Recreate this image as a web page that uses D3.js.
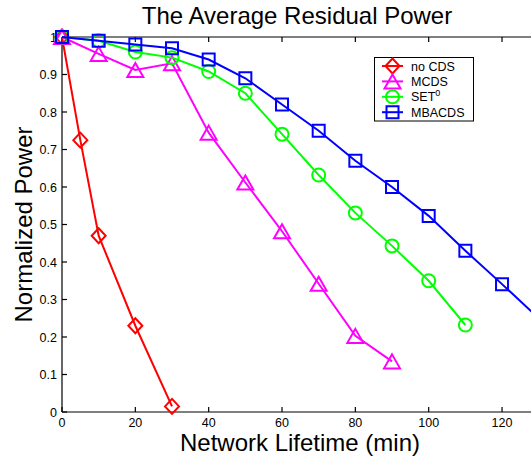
<!DOCTYPE html>
<html>
<head>
<meta charset="utf-8">
<script src="https://cdn.jsdelivr.net/npm/d3@7"></script>
<style>
  html, body { margin: 0; padding: 0; background: #fff; overflow: hidden; }
  svg { display: block; font-family: "Liberation Sans", Arial, Helvetica, sans-serif; }
</style>
</head>
<body>
<div id="chart"></div>
<script>
  // values
  var noCdsX   = [0, 5, 10, 20, 30],
      noCdsY   = [1, 0.725, 0.47, 0.23, 0.015];
  var mcdsX    = [0, 10, 20, 30, 40, 50, 60, 70, 80, 90],
      mcdsY    = [1, 0.955, 0.912, 0.93, 0.745, 0.612, 0.482, 0.342, 0.203, 0.135];
  var setX     = [0, 10, 20, 30, 40, 50, 60, 70, 80, 90, 100, 110],
      setY     = [1, 0.99, 0.96, 0.945, 0.908, 0.85, 0.741, 0.632, 0.531, 0.443, 0.35, 0.232];
  var mbacdsX  = [0, 10, 20, 30, 40, 50, 60, 70, 80, 90, 100, 110, 120, 130],
      mbacdsY  = [1, 0.99, 0.98, 0.97, 0.94, 0.89, 0.82, 0.75, 0.67, 0.6, 0.523, 0.43, 0.341, 0.25];

  var xTicks = [0, 20, 40, 60, 80, 100, 120],
      yTicks = [0, 0.1, 0.2, 0.3, 0.4, 0.5, 0.6, 0.7, 0.8, 0.9, 1];

  var width  = 531,
      height = 459;

  var x = d3.scaleLinear().domain([0, 130]).range([62, 538.7]);
  var y = d3.scaleLinear().domain([0, 1]).range([412, 37]);

  var series = [
    { name: 'no CDS', xs: noCdsX,  ys: noCdsY,  color: '#ff0000', marker: 'diamond' },
    { name: 'MCDS',   xs: mcdsX,   ys: mcdsY,   color: '#ff00ff', marker: 'triangle' },
    { name: 'SET',    xs: setX,    ys: setY,    color: '#00ff00', marker: 'circle', sup: '0' },
    { name: 'MBACDS', xs: mbacdsX, ys: mbacdsY, color: '#0000ff', marker: 'square' }
  ];

  var svg = d3.select('#chart')
              .append('svg')
              .attr('width', width)
              .attr('height', height);

  // tick labels
  svg.selectAll('.ylab')
    .data(yTicks)
    .enter()
    .append('text')
    .attr('x', 57)
    .attr('y', d => y(d) + 4.5)
    .attr('text-anchor', 'end')
    .attr('font-size', '12.5px')
    .text(d => d);

  svg.selectAll('.xlab')
    .data(xTicks)
    .enter()
    .append('text')
    .attr('x', d => x(d))
    .attr('y', 426.5)
    .attr('text-anchor', 'middle')
    .attr('font-size', '12.5px')
    .text(d => d);

  // axes box (left, bottom, top) with inward ticks
  var axes = svg.append('g')
                .attr('stroke', '#000')
                .attr('stroke-width', 1.2)
                .attr('fill', 'none');

  axes.append('line').attr('x1', x(0)).attr('x2', x(130)).attr('y1', y(0)).attr('y2', y(0));
  axes.append('line').attr('x1', x(0)).attr('x2', x(130)).attr('y1', y(1)).attr('y2', y(1));
  axes.append('line').attr('x1', x(0)).attr('x2', x(0)).attr('y1', y(0)).attr('y2', y(1));

  axes.selectAll('.yt')
    .data(yTicks)
    .enter()
    .append('line')
    .attr('x1', x(0)).attr('x2', x(0) + 5)
    .attr('y1', d => y(d)).attr('y2', d => y(d));

  axes.selectAll('.xtb')
    .data(xTicks)
    .enter()
    .append('line')
    .attr('x1', d => x(d)).attr('x2', d => x(d))
    .attr('y1', y(0)).attr('y2', y(0) - 5);

  axes.selectAll('.xtt')
    .data(xTicks)
    .enter()
    .append('line')
    .attr('x1', d => x(d)).attr('x2', d => x(d))
    .attr('y1', y(1)).attr('y2', y(1) + 5);

  function markerPath(type){
    if(type === 'diamond')  return 'M0,-7.5L7,0L0,7.5L-7,0Z';
    if(type === 'triangle') return 'M0,-7L8,7L-8,7Z';
    if(type === 'square')   return 'M-6,-6L6,-6L6,6L-6,6Z';
    return d3.arc()({ innerRadius: 0, outerRadius: 6.5, startAngle: 0, endAngle: 2 * Math.PI });
  }

  var line = d3.line()
               .x(d => x(d[0]))
               .y(d => y(d[1]));

  series.forEach(function(s){
    var pts = s.xs.map((v, i) => [v, s.ys[i]]);
    var g = svg.append('g');

    g.append('path')
      .datum(pts)
      .attr('d', line)
      .attr('fill', 'none')
      .attr('stroke', s.color)
      .attr('stroke-width', 2);

    g.selectAll('.mk')
      .data(pts)
      .enter()
      .append('path')
      .attr('d', markerPath(s.marker))
      .attr('transform', d => 'translate(' + x(d[0]) + ',' + y(d[1]) + ')')
      .attr('fill', 'none')
      .attr('stroke', s.color)
      .attr('stroke-width', 2);
  });

  // legend
  var legend = svg.append('g');
  legend.append('rect')
    .attr('x', 374.5).attr('y', 57.5)
    .attr('width', 99).attr('height', 63.5)
    .attr('fill', '#fff')
    .attr('stroke', '#000')
    .attr('stroke-width', 1);

  series.forEach(function(s, i){
    var cy = 66 + i * 15.4;
    legend.append('line')
      .attr('x1', 382).attr('x2', 403)
      .attr('y1', cy).attr('y2', cy)
      .attr('stroke', s.color)
      .attr('stroke-width', 2);
    legend.append('path')
      .attr('d', markerPath(s.marker))
      .attr('transform', 'translate(392.5,' + cy + ')')
      .attr('fill', 'none')
      .attr('stroke', s.color)
      .attr('stroke-width', 2);
    var t = legend.append('text')
      .attr('x', 411)
      .attr('y', cy + 4.5)
      .attr('font-size', '12.5px')
      .text(s.name);
    if(s.sup){
      t.append('tspan')
        .attr('font-size', '9px')
        .attr('dy', -5)
        .text(s.sup);
    }
  });

  // titles
  svg.append('text')
    .attr('x', 297)
    .attr('y', 24)
    .attr('text-anchor', 'middle')
    .attr('font-size', '24px')
    .text('The Average Residual Power');

  svg.append('text')
    .attr('x', 300)
    .attr('y', 451)
    .attr('text-anchor', 'middle')
    .attr('font-size', '24px')
    .text('Network Lifetime (min)');

  svg.append('text')
    .attr('transform', 'translate(32,' + ((y(0) + y(1)) / 2) + ') rotate(-90)')
    .attr('text-anchor', 'middle')
    .attr('font-size', '24px')
    .text('Normalized Power');
</script>
</body>
</html>
